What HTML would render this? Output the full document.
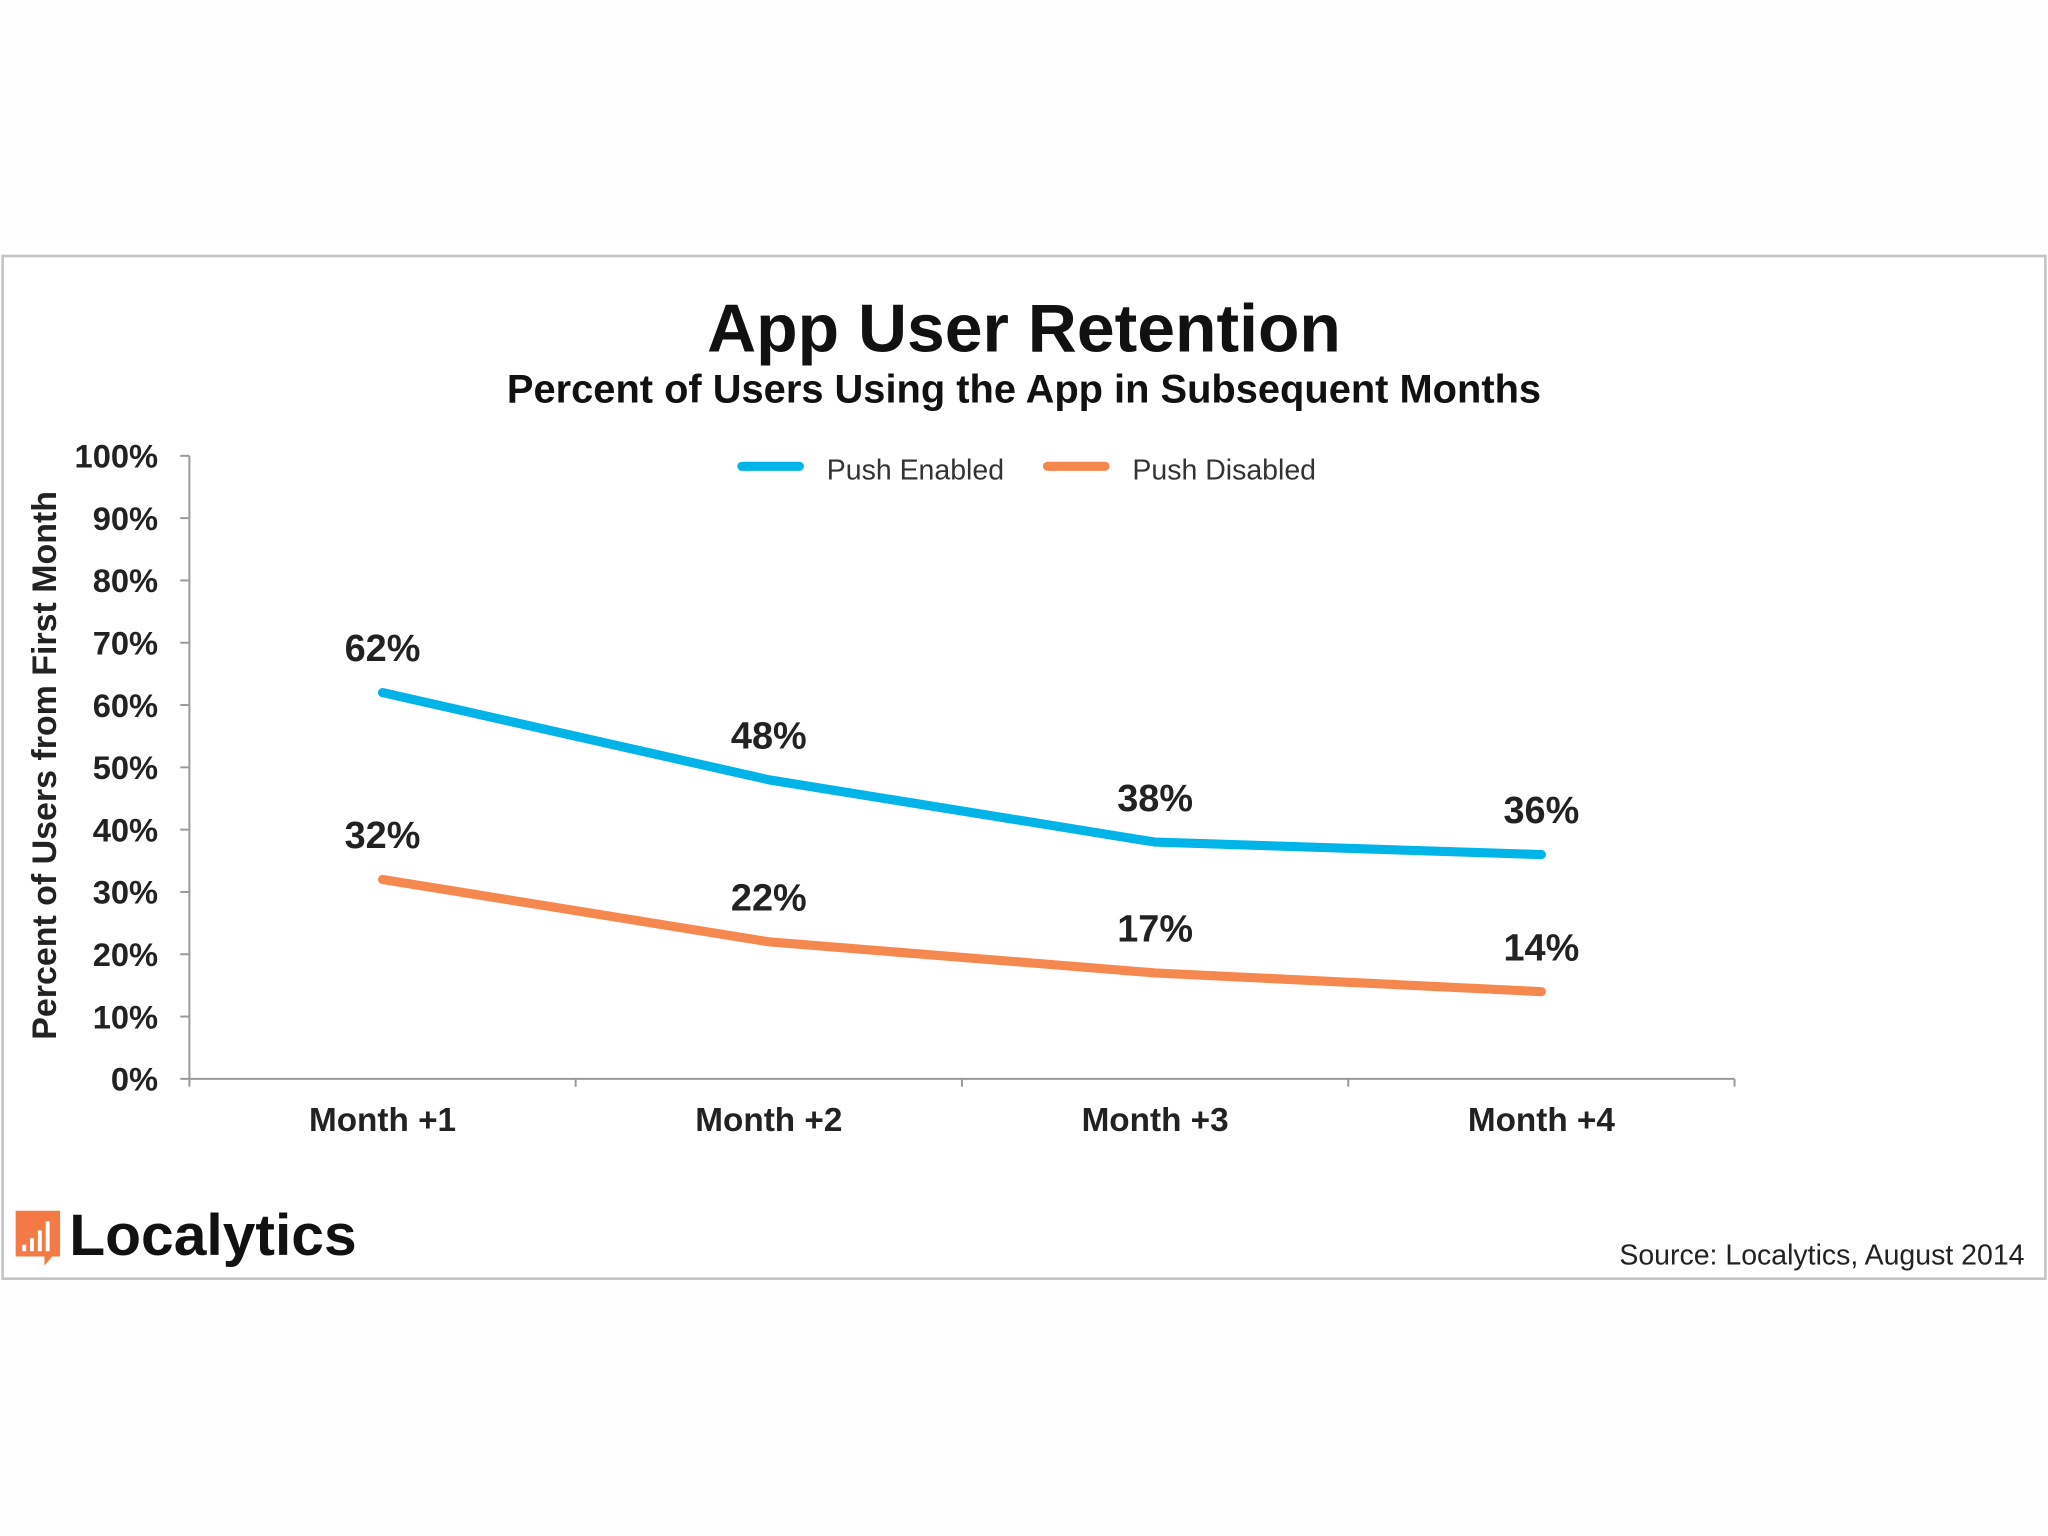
<!DOCTYPE html>
<html><head><meta charset="utf-8"><style>
html,body{margin:0;padding:0;background:#fff;}
svg{display:block;font-family:"Liberation Sans",Arial,sans-serif;}
</style></head><body>
<svg id="chart" width="2048" height="1536" viewBox="0 0 1568 1176" xmlns="http://www.w3.org/2000/svg">
<rect x="0" y="0" width="1568" height="1176" fill="#fefefe"/>
<rect x="2" y="196" width="1564" height="783" fill="#fff" stroke="#c4c4c4" stroke-width="2"/>
<text x="784" y="269" text-anchor="middle" font-size="52" font-weight="bold" fill="#111">App User Retention</text>
<text x="784" y="308" text-anchor="middle" font-size="30.5" font-weight="bold" fill="#111">Percent of Users Using the App in Subsequent Months</text>
<text transform="translate(43,586) rotate(-90)" text-anchor="middle" font-size="26" font-weight="bold" fill="#222">Percent of Users from First Month</text>
<g id="axes"></g>
<g id="series"></g>
<g>
<line x1="568" y1="357" x2="612" y2="357" stroke="#00b4e8" stroke-width="7" stroke-linecap="round"/>
<text x="633" y="367" font-size="21.8" fill="#333">Push Enabled</text>
<line x1="802" y1="357" x2="846" y2="357" stroke="#f5884f" stroke-width="7" stroke-linecap="round"/>
<text x="867" y="367" font-size="21.8" fill="#333">Push Disabled</text>
</g>
<g>
<path d="M12 927 H46 V962 H40 L34 969 V962 H12 Z" fill="#f47a45"/>
<rect x="17" y="953" width="3" height="5" fill="#fff"/>
<rect x="23" y="948" width="3" height="10" fill="#fff"/>
<rect x="29" y="942" width="3" height="16" fill="#fff"/>
<rect x="35" y="935" width="3" height="23" fill="#fff"/>
<text x="53" y="961" font-size="45" font-weight="bold" fill="#111">Localytics</text>
</g>
<text x="1550" y="968" text-anchor="end" font-size="21.8" fill="#222">Source: Localytics, August 2014</text>
</svg>
<script>
const categories = ["Month +1","Month +2","Month +3","Month +4"];
const pushEnabled = [62,48,38,36];
const pushDisabled = [32,22,17,14];
const yTicks = [0,10,20,30,40,50,60,70,80,90,100];

const NS="http://www.w3.org/2000/svg";
const X0=145, X1=1328, Y0=826, Y1=349;
const step=(X1-X0)/categories.length;
const xc=i=>X0+step*(i+0.5);
const y=v=>Y0-(v/100)*(Y0-Y1);
function mk(tag,attrs,parent){const e=document.createElementNS(NS,tag);for(const k in attrs)e.setAttribute(k,attrs[k]);parent.appendChild(e);return e;}
const axes=document.getElementById('axes');
const ser=document.getElementById('series');
const ya=mk('line',{x1:X0,y1:Y1,x2:X0,y2:Y0,stroke:'#999','stroke-width':1.5},axes);


const xa=mk('line',{x1:X0,y1:Y0,x2:X1,y2:Y0,stroke:'#999','stroke-width':1.5},axes);


yTicks.forEach(t=>{
  mk('line',{x1:X0-7,y1:y(t),x2:X0,y2:y(t),stroke:'#999','stroke-width':1.5},axes);
  const tx=mk('text',{x:121,y:y(t)+9,'text-anchor':'end','font-size':25,'font-weight':'bold',fill:'#222'},axes);
  tx.textContent=t+'%';
  
  
});
for(let i=0;i<=categories.length;i++){
  mk('line',{x1:X0+step*i,y1:Y0,x2:X0+step*i,y2:Y0+6,stroke:'#999','stroke-width':1.5},axes);
}
categories.forEach((c,i)=>{
  const tx=mk('text',{x:xc(i),y:866,'text-anchor':'middle','font-size':25.5,'font-weight':'bold',fill:'#222'},axes);
  tx.textContent=c;
  
  
});
function series(vals,color,name){
  const p=mk('polyline',{points:vals.map((v,i)=>xc(i)+','+y(v)).join(' '),fill:'none',stroke:color,'stroke-width':7,'stroke-linecap':'round','stroke-linejoin':'round'},ser);
  
  
  vals.forEach((v,i)=>{
    const t=mk('text',{x:xc(i),y:y(v)-24,'text-anchor':'middle','font-size':29,'font-weight':'bold',fill:'#222'},ser);
    t.textContent=v+'%';
    
    
  });
}
series(pushEnabled,'#00b4e8','push-enabled');
series(pushDisabled,'#f5884f','push-disabled');
</script>
</body></html>
